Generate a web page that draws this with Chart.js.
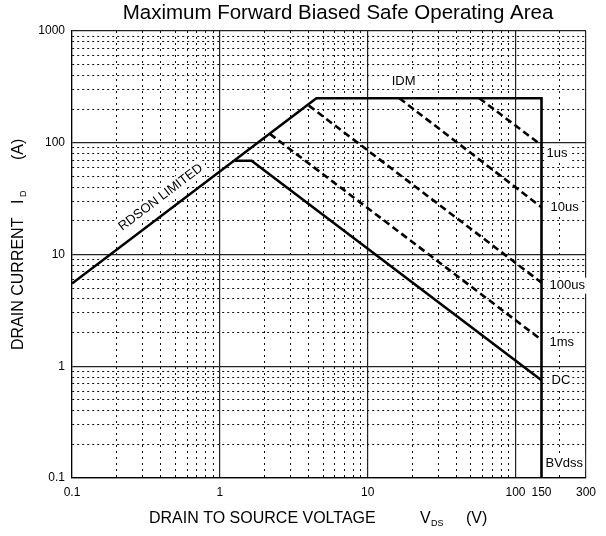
<!DOCTYPE html>
<html><head><meta charset="utf-8">
<script src="https://cdn.jsdelivr.net/npm/chart.js@4.4.0/dist/chart.umd.min.js"></script>
<style>html,body{margin:0;padding:0;background:#fff}canvas{display:block}</style>
</head><body>
<canvas id="c" width="606" height="536"></canvas>
<script>
// ---- tick values / labels ----
const xTickValues = [0.1,0.2,0.3,0.4,0.5,0.6,0.7,0.8,0.9,1,2,3,4,5,6,7,8,9,10,20,30,40,50,60,70,80,90,100,150,200,300];
const xLabelValues = [0.1,1,10,100,150,300];
const xLabelTexts = ['0.1','1','10','100','150','300'];
const xMajorValues = [0.1,1,10,100,300];
const yTickValues = [0.1,0.2,0.3,0.4,0.5,0.6,0.7,0.8,0.9,1,2,3,4,5,6,7,8,9,10,20,30,40,50,60,70,80,90,100,200,300,400,500,600,700,800,900,1000];
const yLabelValues = [0.1,1,10,100,1000];
const yLabelTexts = ['0.1','1','10','100','1000'];

// ---- series (V, A) ----
const boundaryV = [0.1, 4.5, 150, 150];
const boundaryI = [5.5, 250, 250, 0.1];
const dcV = [1.26, 1.64, 150];
const dcI = [69, 69, 0.75];
const us1V = [57, 150];
const us1I = [250, 95];
const us10V = [16.4, 150];
const us10I = [250, 26.5];
const us100V = [4.0, 150];
const us100I = [215, 5.6];
const ms1V = [2.18, 150];
const ms1I = [120, 1.72];

const FONT = '"Liberation Sans", Arial, Helvetica, sans-serif';
const pts = (V, I) => V.map((v, i) => ({x: v, y: I[i]}));
const near = (a, b) => Math.abs(a - b) < 1e-9 * Math.max(1, b);
const isIn = (arr, v) => arr.some(a => near(a, v));

const solid = {showLine: true, pointRadius: 0, borderColor: '#000', borderWidth: 2.6, fill: false, tension: 0, borderCapStyle: 'butt', borderJoinStyle: 'miter'};
const dashed = Object.assign({}, solid, {borderWidth: 2.6, borderDash: [7, 4]});

const datasets = [
  Object.assign({label: 'Boundary', data: pts(boundaryV, boundaryI)}, solid),
  Object.assign({label: 'DC', data: pts(dcV, dcI)}, solid),
  Object.assign({label: '1us', data: pts(us1V, us1I)}, dashed),
  Object.assign({label: '10us', data: pts(us10V, us10I)}, dashed),
  Object.assign({label: '100us', data: pts(us100V, us100I)}, dashed),
  Object.assign({label: '1ms', data: pts(ms1V, ms1I)}, dashed)
];

function boxedText(ctx, t, px, py, align) {
  const w = ctx.measureText(t).width;
  const left = align === 'center' ? px - w / 2 : px;
  ctx.save();
  ctx.fillStyle = '#fff';
  ctx.fillRect(left - 2, py - 8, w + 4, 16);
  ctx.restore();
  ctx.fillText(t, px, py);
}

const annotate = {
  id: 'annotate',
  afterDatasetsDraw(chart) {
    const {ctx, scales: {x, y}, chartArea} = chart;
    ctx.save();
    ctx.fillStyle = '#000';
    ctx.font = '13px ' + FONT;
    ctx.textBaseline = 'middle';
    ctx.textAlign = 'left';
    const ends = [
      ['1us', us1V, us1I, 5, 8],
      ['10us', us10V, us10I, 9, 0],
      ['100us', us100V, us100I, 8, 3],
      ['1ms', ms1V, ms1I, 8, 2],
      ['DC', dcV, dcI, 10, 0]
    ];
    ends.forEach(([t, V, I, dx, dy]) => {
      const n = V.length - 1;
      boxedText(ctx, t, x.getPixelForValue(V[n]) + dx, y.getPixelForValue(I[n]) + dy, 'left');
    });
    boxedText(ctx, 'BVdss', x.getPixelForValue(boundaryV[2]) + 4, chartArea.bottom - 15, 'left');
    ctx.textAlign = 'center';
    boxedText(ctx, 'IDM', x.getPixelForValue(17.5), y.getPixelForValue(boundaryI[1]) - 17, 'center');

    // RDSON LIMITED label along the first segment
    const x0 = x.getPixelForValue(boundaryV[0]), y0 = y.getPixelForValue(boundaryI[0]);
    const x1 = x.getPixelForValue(boundaryV[1]), y1 = y.getPixelForValue(boundaryI[1]);
    const ang = Math.atan2(y1 - y0, x1 - x0);
    const f = 0.40;
    const mx = x0 + (x1 - x0) * f, my = y0 + (y1 - y0) * f;
    ctx.translate(mx, my);
    ctx.rotate(ang);
    ctx.font = '13px ' + FONT;
    const w = ctx.measureText('RDSON LIMITED').width;
    ctx.fillStyle = '#fff';
    ctx.fillRect(-w / 2 - 4, -15 - 8, w + 8, 16);
    ctx.fillStyle = '#000';
    ctx.fillText('RDSON LIMITED', 0, -15);
    ctx.restore();
  },
  afterDraw(chart) {
    const {ctx} = chart;
    ctx.save();
    ctx.fillStyle = '#000';
    ctx.textBaseline = 'middle';
    ctx.textAlign = 'center';
    ctx.font = '20.5px ' + FONT;
    ctx.fillText('Maximum Forward Biased Safe Operating Area', 338, 13);

    // x-axis title
    ctx.textAlign = 'left';
    ctx.font = '16px ' + FONT;
    ctx.fillText('DRAIN TO SOURCE VOLTAGE', 149, 519);
    ctx.fillText('V', 420, 519);
    ctx.fillText('(V)', 466, 519);
    ctx.font = '9px ' + FONT;
    ctx.fillText('DS', 431, 524);

    // y-axis title
    ctx.translate(19, 0);
    ctx.rotate(-Math.PI / 2);
    ctx.font = '16px ' + FONT;
    ctx.fillText('DRAIN CURRENT', -350, 0);
    ctx.fillText('I', -204, 0);
    ctx.fillText('(A)', -160, 0);
    ctx.font = '9px ' + FONT;
    ctx.fillText('D', -197, 5);
    ctx.restore();
  }
};

const gridOpts = (majors, hidden) => ({
  drawTicks: false,
  color: c => {
    if (!c.tick) return '#000';
    if (hidden && isIn(hidden, c.tick.value)) return 'rgba(0,0,0,0)';
    return isIn(majors, c.tick.value) ? '#222' : '#111';
  },
  lineWidth: c => (c.tick && isIn(majors, c.tick.value)) ? 1.2 : 1
});

new Chart(document.getElementById('c'), {
  type: 'scatter',
  data: {datasets},
  options: {
    responsive: false,
    animation: false,
    events: [],
    layout: {padding: {top: 31, right: 20, left: 0, bottom: 0}},
    plugins: {legend: {display: false}, tooltip: {enabled: false}, title: {display: false}},
    scales: {
      x: {
        type: 'logarithmic', min: 0.1, max: 300,
        afterBuildTicks: s => { s.ticks = xTickValues.map(v => ({value: v})); },
        afterFit: s => { s.height = 58; },
        grid: gridOpts(xMajorValues, [150]),
        border: {display: true, color: '#000', width: 1.2, dash: c => (c.tick && !isIn(xMajorValues, c.tick.value)) ? [2, 4] : []},
        ticks: {
          autoSkip: false, maxRotation: 0, minRotation: 0, padding: 7, color: '#000',
          font: {family: FONT, size: 12},
          callback: v => { const i = xLabelValues.findIndex(a => near(a, v)); return i >= 0 ? xLabelTexts[i] : ''; }
        }
      },
      y: {
        type: 'logarithmic', min: 0.1, max: 1000,
        afterBuildTicks: s => { s.ticks = yTickValues.map(v => ({value: v})); },
        afterFit: s => { s.width = 72; },
        grid: gridOpts(yLabelValues),
        border: {display: true, color: '#000', width: 1.2, dash: c => (c.tick && !isIn(yLabelValues, c.tick.value)) ? [2, 3] : []},
        ticks: {
          autoSkip: false, padding: 7, color: '#000',
          font: {family: FONT, size: 12},
          callback: v => { const i = yLabelValues.findIndex(a => near(a, v)); return i >= 0 ? yLabelTexts[i] : ''; }
        }
      }
    }
  },
  plugins: [annotate]
});
</script>
</body></html>
